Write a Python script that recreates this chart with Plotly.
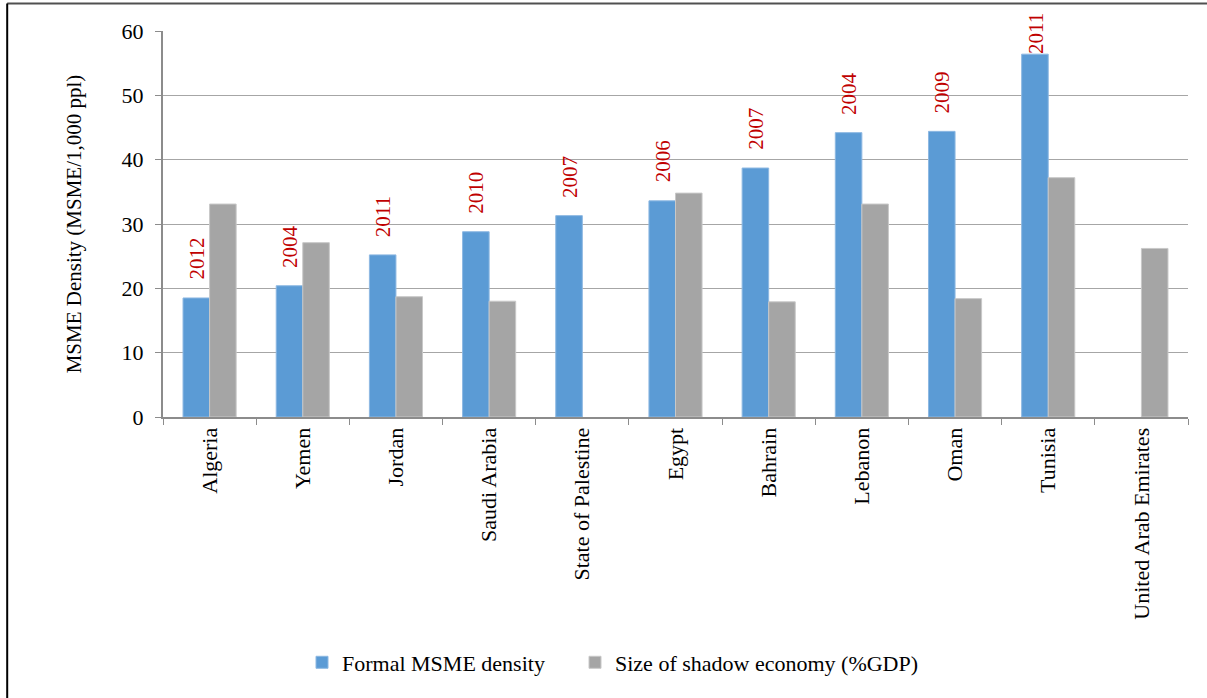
import plotly.graph_objects as go

# Data
countries = ['Algeria', 'Yemen', 'Jordan', 'Saudi Arabia', 'State of Palestine', 'Egypt',
             'Bahrain', 'Lebanon', 'Oman', 'Tunisia', 'United Arab Emirates']
msme_density = [18.5, 20.4, 25.2, 28.8, 31.3, 33.6, 38.7, 44.2, 44.4, 56.4, None]
shadow_economy = [33.1, 27.1, 18.7, 18.0, None, 34.8, 17.9, 33.1, 18.4, 37.2, 26.2]
data_years = ['2012', '2004', '2011', '2010', '2007', '2006', '2007', '2004', '2009', '2011', None]

y_ticks = [0, 10, 20, 30, 40, 50, 60]

BLUE = '#5B9BD5'
GRAY = '#A5A5A5'
RED = '#C00000'
GRID = '#A6A6A6'
AXIS = '#8C8C8C'
FONT = 'Liberation Serif, Times New Roman, serif'

fig = go.Figure()

fig.add_trace(go.Bar(
    x=countries, y=msme_density, name='Formal MSME density',
    marker=dict(color=BLUE, line=dict(color='#8DB8E2', width=1)),
    legend='legend',
))
fig.add_trace(go.Bar(
    x=countries, y=shadow_economy, name='Size of shadow economy (%GDP)',
    marker=dict(color=GRAY, line=dict(color='#C8C8C8', width=1)),
    legend='legend2',
))

# year labels above the blue bars
annotations = []
for c, v, yr in zip(countries, msme_density, data_years):
    if v is None or yr is None:
        continue
    annotations.append(dict(
        x=c, y=v, xref='x', yref='y', text=yr, showarrow=False,
        textangle=-90, yanchor='bottom', xanchor='center',
        xshift=-13, yshift=16 if v < 54 else -2,
        font=dict(family=FONT, size=21, color=RED),
    ))

legend_style = dict(
    orientation='h', yanchor='middle', xanchor='left', y=-0.636,
    font=dict(family=FONT, size=22), itemwidth=30, bgcolor='rgba(0,0,0,0)',
)

fig.update_layout(
    width=1207, height=698, showlegend=True,
    paper_bgcolor='white', plot_bgcolor='white',
    font=dict(family=FONT, size=22, color='black'),
    margin=dict(l=163, r=19, t=31, b=281, autoexpand=False),
    barmode='group', bargap=0.43, bargroupgap=0,
    xaxis=dict(
        type='category', tickangle=-90, tickson='boundaries',
        ticks='outside', ticklen=6, tickcolor=AXIS, tickwidth=1,
        showline=True, linecolor=AXIS, linewidth=2,
        showgrid=False, tickfont=dict(family=FONT, size=22),
    ),
    yaxis=dict(
        range=[0, 60], tickvals=y_ticks, ticks='outside', ticklen=6,
        tickcolor=AXIS, showline=True, linecolor=AXIS, linewidth=2,
        gridcolor=GRID, gridwidth=1, zeroline=False, ticklabelstandoff=7,
        tickfont=dict(family=FONT, size=22),
        title=dict(text='MSME Density (MSME/1,000 ppl)', standoff=34,
                   font=dict(family=FONT, size=21)),
    ),
    legend=dict(**legend_style, x=(302 - 163) / 1025),
    legend2=dict(**legend_style, x=(575 - 163) / 1025),
    annotations=annotations,
    shapes=[
        dict(type='line', xref='paper', yref='paper', x0=-0.152, x1=1.02, y0=1.071, y1=1.071,
             line=dict(color='#505050', width=2)),
        dict(type='line', xref='paper', yref='paper', x0=-0.152, x1=-0.152, y0=1.071, y1=-0.74,
             line=dict(color='black', width=2)),
    ],
)

fig.write_html('out.html', config={'displayModeBar': False},
               post_script="document.body.style.margin='0';")
